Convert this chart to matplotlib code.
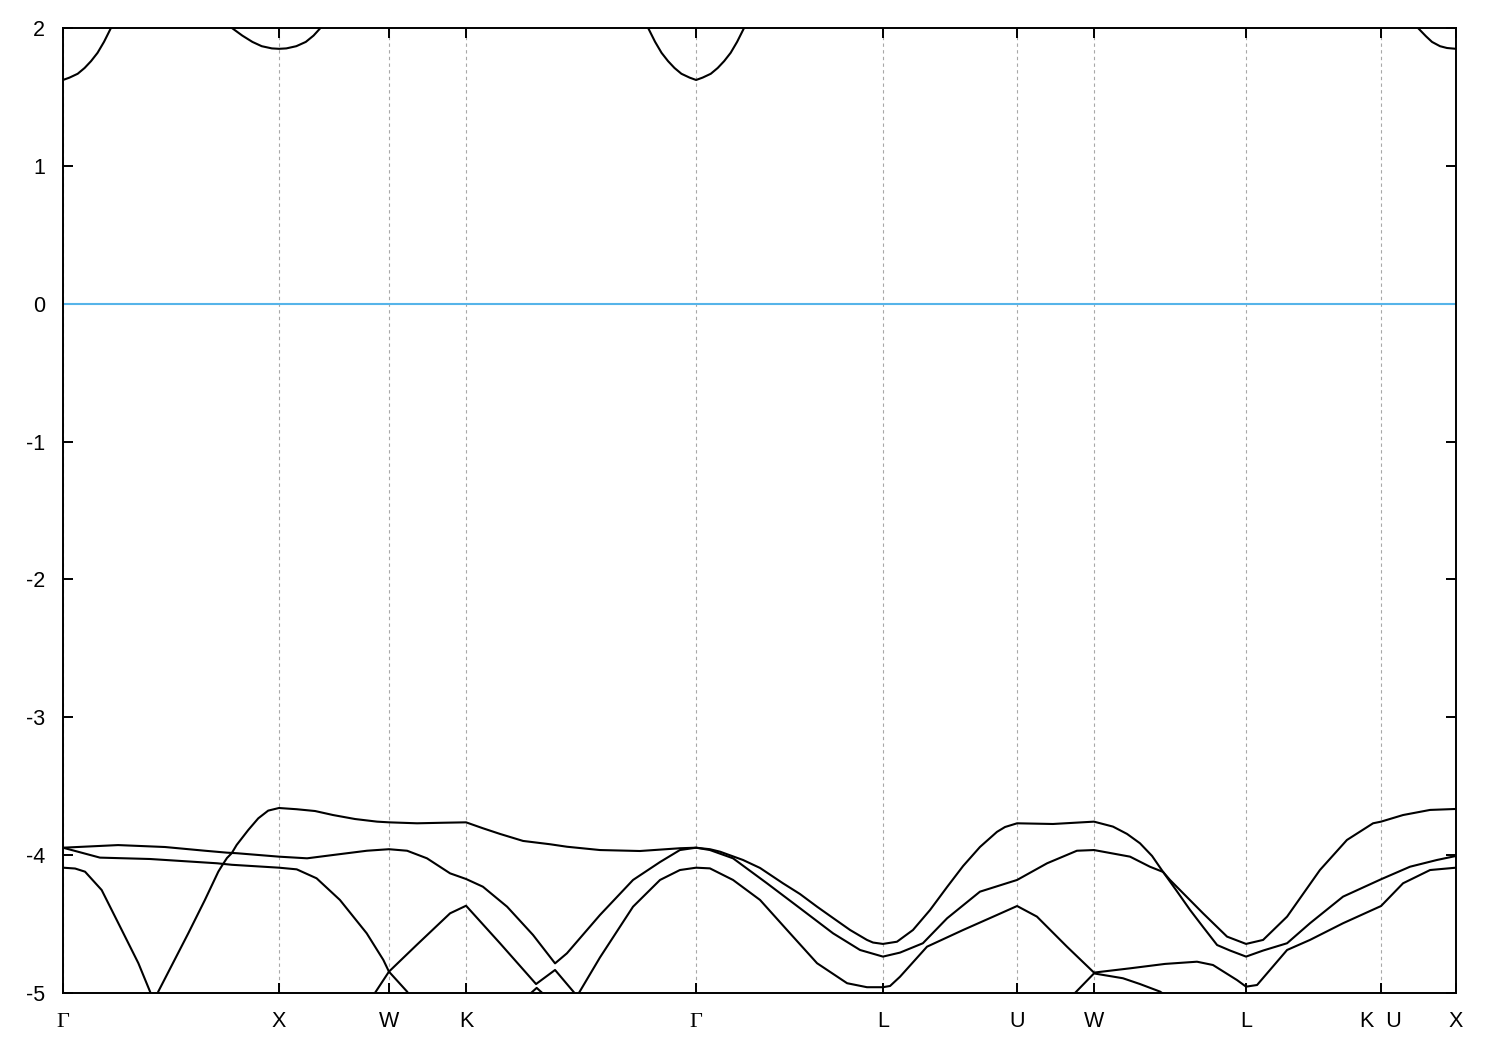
import numpy as np
import matplotlib
matplotlib.use("Agg")
import matplotlib.pyplot as plt

plt.rcParams['font.family'] = ['Liberation Sans', 'DejaVu Sans']
plt.rcParams['axes.unicode_minus'] = False

# high-symmetry points along the k-path
sym_k = [0.0, 1.0, 1.509, 1.866, 2.931, 3.796, 4.417, 4.773, 5.477, 6.102, 6.449]
sym_labels = ['Γ', 'X', 'W', 'K', 'Γ', 'L', 'U', 'W', 'L', 'K  U', 'X']

# conduction band (only the pieces below 2 eV)
cb_g1_k = [0.000, 0.030, 0.068, 0.100, 0.130, 0.160, 0.190, 0.222]
cb_g1_e = [1.623, 1.640, 1.668, 1.710, 1.760, 1.820, 1.900, 2.000]
cb_x1_k = [0.782, 0.830, 0.877, 0.920, 0.967, 1.000, 1.034, 1.080, 1.124, 1.160, 1.192]
cb_x1_e = [2.000, 1.945, 1.899, 1.868, 1.852, 1.849, 1.852, 1.868, 1.899, 1.945, 2.000]
cb_g2_k = [2.709, 2.741, 2.771, 2.801, 2.831, 2.863, 2.901, 2.931,
           2.961, 2.999, 3.031, 3.061, 3.091, 3.121, 3.153]
cb_g2_e = [2.000, 1.900, 1.820, 1.760, 1.710, 1.668, 1.640, 1.623,
           1.640, 1.668, 1.710, 1.760, 1.820, 1.900, 2.000]
cb_x2_k = [6.273, 6.310, 6.338, 6.375, 6.407, 6.449]
cb_x2_e = [2.000, 1.940, 1.899, 1.868, 1.855, 1.849]

# valence bands
vb_p_k = [0.000, 0.056, 0.102, 0.179, 0.272, 0.349, 0.403, 0.421, 0.441, 0.580,
          0.657, 0.719, 0.735, 0.759, 0.781, 0.804, 0.858, 0.904, 0.950, 1.000,
          1.082, 1.167, 1.250, 1.352, 1.454, 1.509, 1.639, 1.759, 1.866, 1.944,
          2.023, 2.130, 2.255, 2.333, 2.486, 2.671, 2.856, 2.931, 2.995, 3.042,
          3.148, 3.227, 3.333, 3.412, 3.491, 3.565, 3.644, 3.722, 3.750, 3.796,
          3.861, 3.935, 4.014, 4.093, 4.167, 4.245, 4.324, 4.361, 4.417, 4.583,
          4.773, 4.861, 4.926, 4.986, 5.042, 5.093, 5.153, 5.218, 5.278, 5.343,
          5.403, 5.477, 5.556, 5.667, 5.773, 5.926, 6.102, 6.236, 6.361, 6.449]
vb_p_e = [-4.091, -4.097, -4.120, -4.253, -4.543, -4.784, -4.990, -5.065, -4.990, -4.567,
          -4.325, -4.120, -4.079, -4.021, -3.986, -3.926, -3.817, -3.733, -3.677, -3.658,
          -3.667, -3.680, -3.709, -3.738, -3.757, -3.762, -3.769, -3.765, -3.762, -3.805,
          -3.846, -3.897, -3.921, -3.939, -3.963, -3.970, -3.950, -3.946, -3.957, -3.975,
          -4.035, -4.093, -4.204, -4.282, -4.374, -4.456, -4.543, -4.615, -4.634, -4.644,
          -4.628, -4.543, -4.398, -4.231, -4.079, -3.941, -3.831, -3.796, -3.769, -3.774,
          -3.757, -3.793, -3.846, -3.914, -4.006, -4.122, -4.253, -4.398, -4.521, -4.652,
          -4.692, -4.736, -4.692, -4.639, -4.494, -4.301, -4.175, -4.084, -4.035, -4.006]

vb_q_k = [0.000, 0.255, 0.472, 0.657, 0.759, 0.804, 1.000, 1.130, 1.250, 1.407,
          1.509, 1.593, 1.685, 1.792, 1.866, 1.944, 2.056, 2.176, 2.278, 2.333,
          2.486, 2.639, 2.764, 2.856, 2.931, 2.995, 3.102, 3.259, 3.412, 3.565,
          3.690, 3.796, 3.875, 3.981, 4.093, 4.245, 4.417, 4.556, 4.694, 4.773,
          4.940, 5.032, 5.093, 5.125, 5.278, 5.389, 5.477, 5.556, 5.667, 5.819,
          5.944, 6.065, 6.102, 6.204, 6.329, 6.449]
vb_q_e = [-3.946, -3.927, -3.941, -3.968, -3.982, -3.986, -4.011, -4.023, -3.999, -3.968,
          -3.957, -3.968, -4.023, -4.132, -4.173, -4.229, -4.374, -4.579, -4.785, -4.712,
          -4.434, -4.180, -4.050, -3.963, -3.946, -3.963, -4.023, -4.204, -4.385, -4.567,
          -4.688, -4.736, -4.707, -4.639, -4.458, -4.265, -4.180, -4.059, -3.968, -3.963,
          -4.011, -4.084, -4.122, -4.180, -4.422, -4.591, -4.644, -4.615, -4.446, -4.108,
          -3.890, -3.769, -3.757, -3.709, -3.672, -3.665]

vb_b_k = [0.000, 0.171, 0.403, 0.713, 0.782, 1.000, 1.082, 1.174, 1.282, 1.406,
          1.483, 1.509, 1.593, 1.620]
vb_b_e = [-3.946, -4.018, -4.028, -4.059, -4.070, -4.091, -4.103, -4.168, -4.325, -4.567,
          -4.760, -4.845, -4.990, -5.050]

vb_c_k = [1.423, 1.444, 1.509, 1.637, 1.792, 1.866, 2.023, 2.190, 2.278, 2.380,
          2.486, 2.639, 2.764, 2.856, 2.931, 2.995, 3.102, 3.227, 3.352, 3.491,
          3.630, 3.722, 3.796, 3.829, 3.875, 4.000, 4.167, 4.324, 4.417, 4.509,
          4.648, 4.773, 4.940, 5.102, 5.250, 5.324, 5.435, 5.477, 5.528, 5.667,
          5.773, 5.926, 6.102, 6.204, 6.329, 6.449]
vb_c_e = [-5.051, -5.000, -4.845, -4.652, -4.422, -4.367, -4.639, -4.935, -4.833, -5.022,
          -4.742, -4.374, -4.180, -4.108, -4.091, -4.096, -4.180, -4.325, -4.543, -4.784,
          -4.929, -4.958, -4.958, -4.949, -4.882, -4.664, -4.543, -4.434, -4.369, -4.446,
          -4.664, -4.852, -4.821, -4.789, -4.773, -4.797, -4.906, -4.954, -4.942, -4.688,
          -4.615, -4.494, -4.369, -4.204, -4.108, -4.091]

vb_d_k = [2.130, 2.193, 2.255]
vb_d_e = [-5.051, -4.963, -5.051]

vb_e_k = [4.671, 4.685, 4.773, 4.907, 4.986, 5.079, 5.102]
vb_e_e = [-5.051, -5.000, -4.858, -4.893, -4.935, -4.990, -5.015]

fermi_level = 0.0

fig = plt.figure(figsize=(15, 10.5), dpi=100)
ax = fig.add_axes([63 / 1500, 1 - 993 / 1050, (1456 - 63) / 1500, (993 - 28) / 1050])

bands = [(cb_g1_k, cb_g1_e), (cb_x1_k, cb_x1_e), (cb_g2_k, cb_g2_e), (cb_x2_k, cb_x2_e),
         (vb_p_k, vb_p_e), (vb_q_k, vb_q_e), (vb_b_k, vb_b_e), (vb_c_k, vb_c_e),
         (vb_d_k, vb_d_e), (vb_e_k, vb_e_e)]
for kk, ee in bands:
    ax.plot(kk, ee, color='black', lw=1.5, zorder=3)

ax.axhline(fermi_level, color='#56b4e9', lw=1.5, zorder=2)

ax.set_xlim(sym_k[0], sym_k[-1])
ax.set_ylim(-5, 2)
ax.set_xticks(sym_k)
ax.set_xticklabels(sym_labels)
ax.set_yticks(np.arange(-5, 3))
ax.set_yticklabels([str(v) for v in range(-5, 3)])

ax.set_axisbelow(True)
ax.grid(axis='x', color='#a8a8a8', linestyle=(0, (3, 3)), lw=0.8)

ax.tick_params(direction='in', length=7.5, width=1.4, top=True, right=True,
               labelsize=15.5, colors='black')
ax.tick_params(axis='x', pad=24.5)
ax.tick_params(axis='y', pad=13)
for lbl in ax.get_xticklabels():
    lbl.set_verticalalignment('baseline')
    if lbl.get_text() == 'Γ':
        lbl.set_fontfamily(['Liberation Serif', 'DejaVu Serif'])
        lbl.set_fontsize(16)

for sp in ax.spines.values():
    sp.set_linewidth(1.4)

fig.savefig('out.png', dpi=100)
